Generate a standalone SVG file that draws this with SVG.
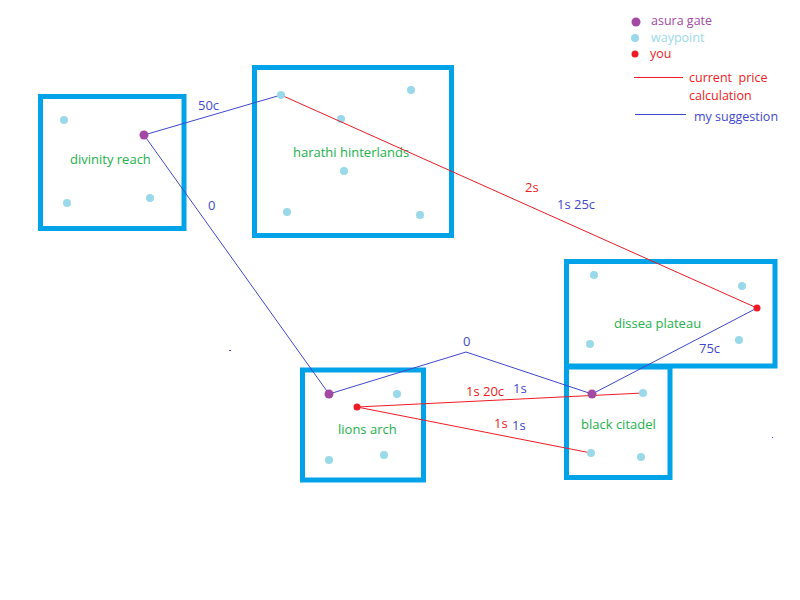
<svg xmlns="http://www.w3.org/2000/svg" width="800" height="600" viewBox="0 0 800 600">
<style>
.box{fill:none;stroke:#00A2E8;stroke-width:5}
.wp{fill:#99D9EA}
.gate{fill:#A349A4}
.you{fill:#ED1C24}
.lbl{font-family:"Open Sans","Noto Sans",sans-serif;font-size:13px}
.leg{font-size:12.5px}
.area{fill:#22B14C}
.bl{fill:#3F48CC}
.rd{fill:#ED1C24}
.cb{stroke:#3F48CC;stroke-width:1;fill:none}
.cr{stroke:#ED1C24;stroke-width:1;fill:none}
</style>
<rect width="800" height="600" fill="#FFFFFF"/>
<g id="divinity-reach">
<rect class="box" x="40.5" y="96.5" width="143.5" height="132"/>
<circle class="wp" cx="64" cy="120" r="4"/>
<circle class="wp" cx="67" cy="203" r="4"/>
<circle class="wp" cx="150" cy="198" r="4"/>
<text class="lbl area" x="70" y="164">divinity reach</text>
</g>
<g id="harathi-hinterlands">
<rect class="box" x="254.5" y="67.5" width="197" height="168"/>
<circle class="wp" cx="411" cy="90" r="4"/>
<circle class="wp" cx="341" cy="119" r="4"/>
<circle class="wp" cx="344" cy="171" r="4"/>
<circle class="wp" cx="287" cy="212" r="4"/>
<circle class="wp" cx="420" cy="215" r="4"/>
<text class="lbl area" x="293" y="157">harathi hinterlands</text>
</g>
<g id="dissea-plateau">
<rect class="box" x="566.5" y="261.5" width="208.5" height="104.5"/>
<circle class="wp" cx="594" cy="275" r="4"/>
<circle class="wp" cx="742" cy="286" r="4"/>
<circle class="wp" cx="590" cy="344" r="4"/>
<circle class="wp" cx="739" cy="340" r="4"/>
<text class="lbl area" x="614" y="328">dissea plateau</text>
</g>
<g id="black-citadel">
<rect class="box" x="566.5" y="367" width="103.5" height="110.5"/>
<circle class="wp" cx="641" cy="457" r="4"/>
<text class="lbl area" x="581" y="429">black citadel</text>
</g>
<g id="lions-arch">
<rect class="box" x="302.5" y="370" width="121" height="110"/>
<circle class="wp" cx="397" cy="394" r="4"/>
<circle class="wp" cx="329" cy="460" r="4"/>
<circle class="wp" cx="384" cy="455" r="4"/>
<text class="lbl area" x="338" y="434">lions arch</text>
</g>
<g id="connectors">
<polyline class="cb" points="144,135 281,95"/>
<polyline class="cr" points="281,95 757,308"/>
<polyline class="cb" points="144,135 329,394"/>
<polyline class="cb" points="329,394 466,352 592,394 757,308"/>
<polyline class="cr" points="357,407 643,393"/>
<polyline class="cr" points="357,407 591,453"/>
<text class="lbl bl" x="198" y="110">50c</text>
<text class="lbl bl" x="208" y="210">0</text>
<text class="lbl rd" x="525" y="192">2s</text>
<text class="lbl bl" x="557" y="209">1s 25c</text>
<text class="lbl bl" x="699" y="353">75c</text>
<text class="lbl bl" x="463" y="346">0</text>
<text class="lbl rd" x="466" y="396">1s 20c</text>
<text class="lbl bl" x="513" y="393">1s</text>
<text class="lbl rd" x="494" y="428">1s</text>
<text class="lbl bl" x="512" y="430">1s</text>
</g>
<g id="points">
<circle class="wp" cx="281" cy="95" r="4"/>
<circle class="wp" cx="643" cy="393" r="4"/>
<circle class="wp" cx="591" cy="453" r="4"/>
<circle class="gate" cx="144" cy="135" r="4.5"/>
<circle class="gate" cx="329" cy="394" r="4.5"/>
<circle class="gate" cx="592" cy="394" r="4.5"/>
<circle class="you" cx="757" cy="308" r="3.5"/>
<circle class="you" cx="357" cy="407" r="3.5"/>
</g>
<g id="specks">
<rect x="229" y="350" width="2" height="1" fill="#3F48CC"/>
<rect x="772" y="437" width="1" height="1" fill="#3F48CC"/>
</g>
<g id="legend">
<circle class="gate" cx="636" cy="22" r="4.5"/>
<text class="lbl leg" x="651" y="25" fill="#A349A4">asura gate</text>
<circle class="wp" cx="635" cy="38" r="4"/>
<text class="lbl leg" x="651" y="42" fill="#99D9EA">waypoint</text>
<circle class="you" cx="635" cy="54" r="3.5"/>
<text class="lbl leg rd" x="650" y="58">you</text>
<line class="cr" x1="634" y1="77.5" x2="683" y2="77.5"/>
<text class="lbl leg rd" x="689" y="82" xml:space="preserve">current  price</text>
<text class="lbl leg rd" x="689" y="100">calculation</text>
<line class="cb" x1="635" y1="114.5" x2="686" y2="114.5"/>
<text class="lbl leg bl" x="694" y="121">my suggestion</text>
</g>
</svg>
